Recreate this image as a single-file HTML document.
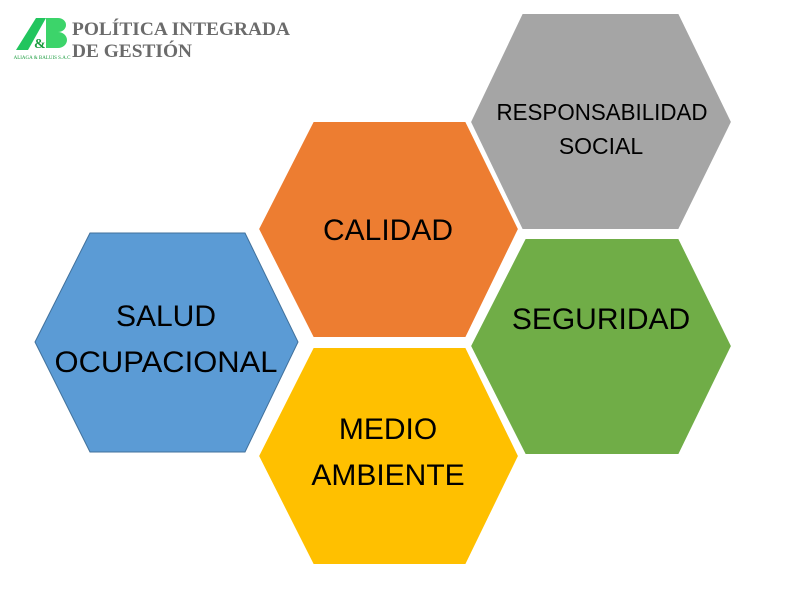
<!DOCTYPE html>
<html><head><meta charset="utf-8"><style>
body{margin:0;background:#fff;width:796px;height:591px;overflow:hidden;font-family:"Liberation Sans",sans-serif}
</style></head><body>
<svg width="796" height="591" xmlns="http://www.w3.org/2000/svg" style="position:absolute;left:0;top:0">
<g font-family="Liberation Sans, sans-serif" text-anchor="middle" fill="#000">
<polygon points="35,342 90,233 245,233 298,342 245,452 90,452" fill="#5b9bd5" stroke="#41719c" stroke-width="1"/>
<polygon points="258,229 313,121 466,121 519,229 466,338 313,338" fill="#ed7d31" stroke="#fff" stroke-width="2"/>
<polygon points="470,122 522,13 679,13 732,122 679,230 522,230" fill="#a5a5a5" stroke="#fff" stroke-width="2"/>
<polygon points="470,346 525,238 679,238 732,346 679,455 525,455" fill="#70ad47" stroke="#fff" stroke-width="2"/>
<polygon points="258,456 313,347 466,347 519,456 466,565 313,565" fill="#ffc000" stroke="#fff" stroke-width="2"/>
<text x="166" y="326" font-size="30">SALUD</text>
<text x="166" y="372" font-size="30" textLength="223" lengthAdjust="spacingAndGlyphs">OCUPACIONAL</text>
<text x="388" y="240" font-size="30">CALIDAD</text>
<text x="602" y="120" font-size="23" textLength="211" lengthAdjust="spacingAndGlyphs">RESPONSABILIDAD</text>
<text x="601" y="154" font-size="23">SOCIAL</text>
<text x="601" y="329" font-size="30">SEGURIDAD</text>
<text x="388" y="439" font-size="30">MEDIO</text>
<text x="388" y="485" font-size="30">AMBIENTE</text>
</g>
<g font-family="Liberation Serif, serif" font-weight="bold" fill="#6b6b6b" font-size="19">
<text x="72" y="35" textLength="218" lengthAdjust="spacingAndGlyphs">POLÍTICA INTEGRADA</text>
<text x="72" y="57" textLength="120" lengthAdjust="spacingAndGlyphs">DE GESTIÓN</text>
</g>
<g fill="#22c55e">
<polygon points="16,50 36,18 46,18 28,50"/>
<path d="M46,18 h12 a8,7 0 0 1 0,14 a9,8 0 0 1 0,16 h-12z" fill="#3cd46a"/>
<text x="34" y="48" font-size="14" font-family="Liberation Serif,serif" font-weight="bold" fill="#1a9c3e">&amp;</text>
<text x="42" y="59" font-size="5" text-anchor="middle" font-family="Liberation Serif,serif" fill="#1a9c3e">ALIAGA &amp; BALUIS S.A.C</text>
</g>
</svg>
</body></html>
